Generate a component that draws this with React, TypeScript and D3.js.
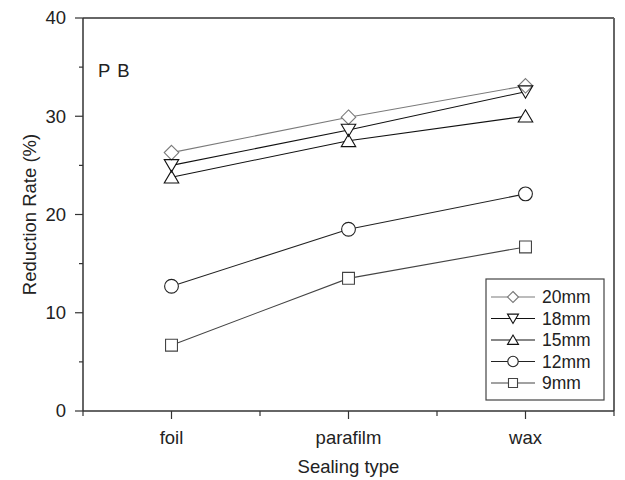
import React from "react";
import * as d3 from "d3";

const categories = ["foil", "parafilm", "wax"];
const seriesNames = ["20mm", "18mm", "15mm", "12mm", "9mm"];
const s20 = [26.3, 29.9, 33.1];
const s18 = [25.0, 28.6, 32.5];
const s15 = [23.8, 27.5, 30.0];
const s12 = [12.7, 18.5, 22.1];
const s9 = [6.7, 13.5, 16.7];
const yTicks = [0, 10, 20, 30, 40];
const yMinor = [5, 15, 25, 35];

const W = 625, H = 480;
const L = 83, R = 614, T = 18, B = 411;
const FONT = "Liberation Sans, Arial, Helvetica, sans-serif";

type Sym = "diamond" | "down" | "up" | "circle" | "square";
const series: { name: string; values: number[]; sym: Sym; color: string }[] = [
  { name: seriesNames[0], values: s20, sym: "diamond", color: "#7a7a7a" },
  { name: seriesNames[1], values: s18, sym: "down", color: "#111" },
  { name: seriesNames[2], values: s15, sym: "up", color: "#111" },
  { name: seriesNames[3], values: s12, sym: "circle", color: "#222" },
  { name: seriesNames[4], values: s9, sym: "square", color: "#444" },
];

function markerPath(sym: Sym, cx: number, cy: number, s: number): string {
  const h = s / 2;
  switch (sym) {
    case "diamond":
      return `M${cx},${cy - h}L${cx + h},${cy}L${cx},${cy + h}L${cx - h},${cy}Z`;
    case "down":
      return `M${cx - h},${cy - h * 0.8}L${cx + h},${cy - h * 0.8}L${cx},${cy + h * 0.9}Z`;
    case "up":
      return `M${cx - h},${cy + h * 0.8}L${cx + h},${cy + h * 0.8}L${cx},${cy - h * 0.9}Z`;
    case "circle": {
      const r = h * 0.95;
      return `M${cx - r},${cy}a${r},${r} 0 1,0 ${2 * r},0a${r},${r} 0 1,0 ${-2 * r},0Z`;
    }
    case "square": {
      const q = h * 0.82;
      return `M${cx - q},${cy - q}H${cx + q}V${cy + q}H${cx - q}Z`;
    }
  }
}

export default function App() {
  const x = d3.scaleBand<string>().domain(categories).range([L, R]).paddingInner(0).paddingOuter(0);
  const cx = (c: string) => (x(c) as number) + x.bandwidth() / 2;
  const y = d3.scaleLinear().domain([0, 40]).range([B, T]);
  const line = d3.line<number>().x((_, i) => cx(categories[i])).y((v) => y(v));

  const bandEdges = [...categories.map((c) => x(c) as number), R];

  const legX = 486, legY = 279, legW = 118, legH = 121;
  const rowH = 21.5;
  const MS = 14.5;

  return (
    <svg width={W} height={H} style={{ position: "absolute", left: 0, top: 0, background: "#fff" }}>
      <rect x={0} y={0} width={W} height={H} fill="#fff" />
      <line x1={L} y1={T} x2={R} y2={T} stroke="#666" strokeWidth={2} />
      <line x1={R} y1={T} x2={R} y2={B} stroke="#666" strokeWidth={2} />
      <line x1={L} y1={T} x2={L} y2={B} stroke="#333" strokeWidth={1.5} />
      <line x1={L} y1={B} x2={R} y2={B} stroke="#333" strokeWidth={1.5} />
      {yTicks.map((t) => (
        <g key={"yt" + t}>
          <line x1={L - 8} x2={L} y1={y(t)} y2={y(t)} stroke="#333" strokeWidth={1.2} />
          <text x={L - 17} y={y(t)} dy="0.35em" textAnchor="end" fontFamily={FONT} fontSize={18.5} fill="#222">
            {t}
          </text>
        </g>
      ))}
      {yMinor.map((t) => (
        <line key={"ym" + t} x1={L - 4} x2={L} y1={y(t)} y2={y(t)} stroke="#333" strokeWidth={1.2} />
      ))}
      {categories.map((c) => (
        <g key={"xt" + c}>
          <line x1={cx(c)} x2={cx(c)} y1={B} y2={B + 8} stroke="#333" strokeWidth={1.2} />
          <text x={cx(c)} y={B + 33} textAnchor="middle" fontFamily={FONT} fontSize={18.5} fill="#222">
            {c}
          </text>
        </g>
      ))}
      {bandEdges.map((e, i) => (
        <line key={"xm" + i} x1={e} x2={e} y1={B} y2={B + 5} stroke="#333" strokeWidth={1.2} />
      ))}
      <text x={(L + R) / 2} y={B + 62} textAnchor="middle" fontFamily={FONT} fontSize={18.5} fill="#222">
        Sealing type
      </text>
      <text
        transform={`translate(36,${(T + B) / 2}) rotate(-90)`}
        textAnchor="middle"
        fontFamily={FONT}
        fontSize={18.5}
        fill="#222"
      >
        Reduction Rate (%)
      </text>
      <text x={98} y={77} fontFamily={FONT} fontSize={18.5} fill="#222" letterSpacing={1}>
        P B
      </text>
      {series.map((s) => (
        <path key={"l" + s.name} d={line(s.values) || ""} fill="none" stroke={s.color} strokeWidth={1.1} />
      ))}
      {series.map((s) =>
        s.values.map((v, i) => (
          <path key={"f" + s.name + i} d={markerPath(s.sym, cx(categories[i]), y(v), MS)} fill="#fff" stroke="none" />
        ))
      )}
      {series.map((s) =>
        s.values.map((v, i) => (
          <path
            key={"m" + s.name + i}
            d={markerPath(s.sym, cx(categories[i]), y(v), MS)}
            fill="none"
            stroke={s.color}
            strokeWidth={1.1}
          />
        ))
      )}
      <rect x={legX} y={legY} width={legW} height={legH} fill="#fff" stroke="#444" strokeWidth={1.2} />
      {series.map((s, i) => {
        const ry = legY + 18 + i * rowH;
        return (
          <g key={"lg" + s.name}>
            <line x1={legX + 5} x2={legX + 49} y1={ry} y2={ry} stroke={s.color} strokeWidth={1.1} />
            <path d={markerPath(s.sym, legX + 27, ry, 11)} fill="#fff" stroke={s.color} strokeWidth={1.1} />
            <text x={legX + 56} y={ry} dy="0.35em" fontFamily={FONT} fontSize={17.5} fill="#222">
              {s.name}
            </text>
          </g>
        );
      })}
    </svg>
  );
}
